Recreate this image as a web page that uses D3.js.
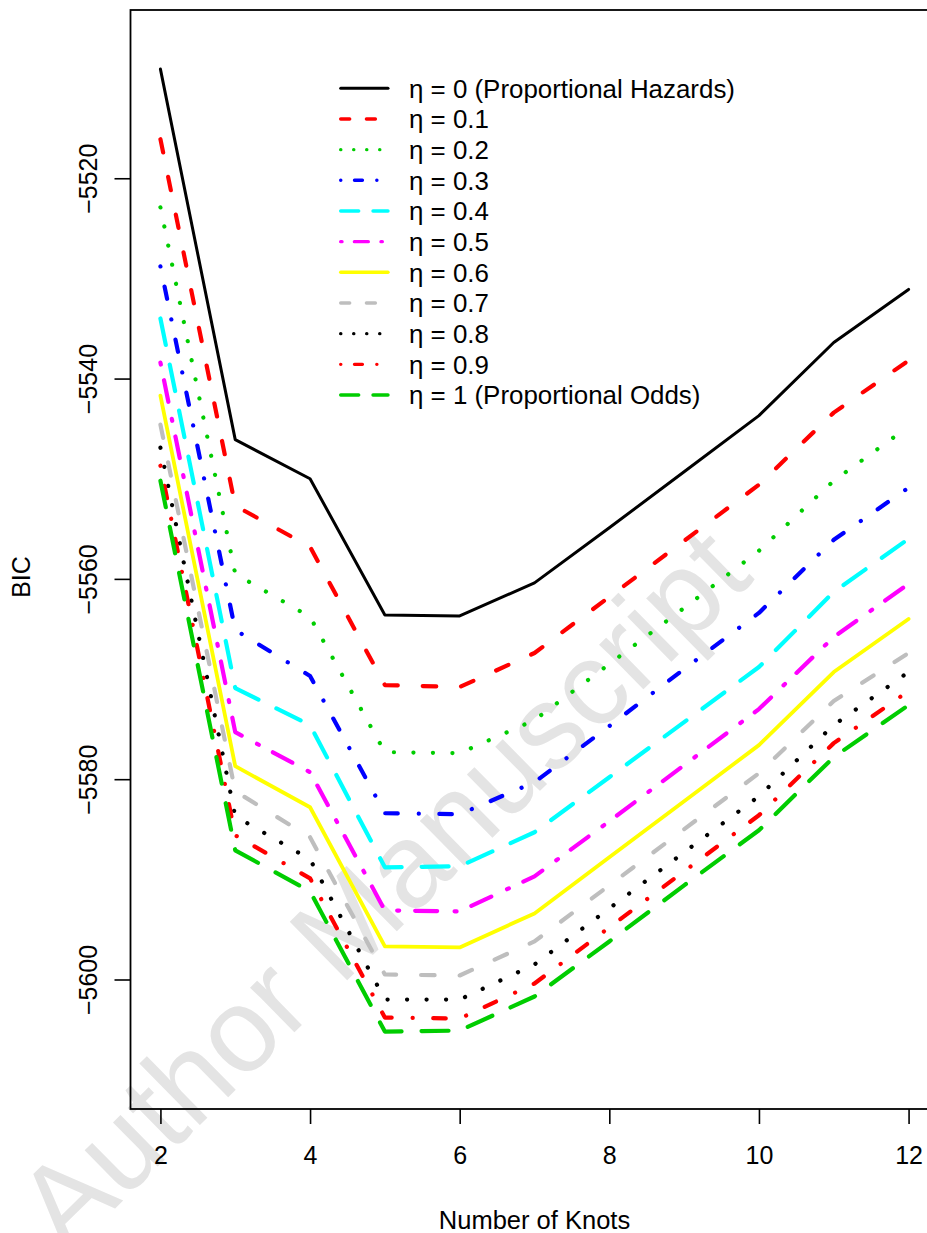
<!DOCTYPE html>
<html>
<head>
<meta charset="utf-8">
<script src="https://cdn.jsdelivr.net/npm/d3@7"></script>
<style>
  body { margin: 0; background: #fff; }
  text { font-family: "Liberation Sans", Arial, Helvetica, sans-serif; }
</style>
</head>
<body>
<div id="chart"></div>
<script>
// number of knots on the x axis
const knots = [2, 3, 4, 5, 6, 7, 8, 9, 10, 11, 12];

// BIC for each eta
const bicEta00 = [-5509.1, -5546.1, -5550.0, -5563.6, -5563.7, -5560.4, -5554.9, -5549.3, -5543.7, -5536.4, -5531.1];
const bicEta01 = [-5516.1, -5552.7, -5556.8, -5570.6, -5570.8, -5567.4, -5561.8, -5556.2, -5550.6, -5543.4, -5538.2];
const bicEta02 = [-5522.9, -5559.5, -5563.8, -5577.3, -5577.4, -5574.1, -5568.5, -5562.9, -5557.2, -5550.2, -5544.8];
const bicEta03 = [-5528.8, -5565.1, -5569.7, -5583.4, -5583.5, -5580.3, -5574.7, -5569.0, -5563.4, -5556.1, -5550.9];
const bicEta04 = [-5534.0, -5570.9, -5574.6, -5588.8, -5588.7, -5585.3, -5579.8, -5574.3, -5568.8, -5561.3, -5556.0];
const bicEta05 = [-5538.4, -5575.3, -5579.3, -5593.1, -5593.2, -5589.7, -5584.2, -5578.6, -5573.0, -5565.8, -5560.5];
const bicEta06 = [-5541.7, -5578.7, -5582.8, -5596.7, -5596.8, -5593.4, -5587.8, -5582.2, -5576.6, -5569.3, -5564.0];
const bicEta07 = [-5544.6, -5581.2, -5585.8, -5599.5, -5599.6, -5596.2, -5590.6, -5585.0, -5579.4, -5572.2, -5567.4];
const bicEta08 = [-5546.9, -5583.7, -5588.0, -5602.0, -5602.0, -5598.5, -5592.9, -5587.3, -5581.7, -5574.6, -5569.3];
const bicEta09 = [-5548.7, -5585.6, -5589.9, -5603.8, -5603.9, -5600.4, -5594.8, -5589.2, -5583.6, -5576.4, -5571.2];
const bicEta10 = [-5550.2, -5587.1, -5591.2, -5605.2, -5605.1, -5601.7, -5596.2, -5590.6, -5585.1, -5577.8, -5572.6];

const etaLabels = ["η = 0 (Proportional Hazards)", "η = 0.1", "η = 0.2", "η = 0.3", "η = 0.4", "η = 0.5",
                   "η = 0.6", "η = 0.7", "η = 0.8", "η = 0.9", "η = 1 (Proportional Odds)"];
const xTicks = [2, 4, 6, 8, 10, 12];
const yTicks = [-5600, -5580, -5560, -5540, -5520];

// R default palette and line types, cycled like lty = 1:6
const colors = ["#000000", "#FF0000", "#00CD00", "#0000FF", "#00FFFF", "#FF00FF",
                "#FFFF00", "#BEBEBE", "#000000", "#FF0000", "#00CD00"];
const ltys = ["solid", "dashed", "dotted", "dotdash", "longdash", "twodash",
              "solid", "dashed", "dotted", "dotdash", "longdash"];

const bics = [bicEta00, bicEta01, bicEta02, bicEta03, bicEta04, bicEta05,
              bicEta06, bicEta07, bicEta08, bicEta09, bicEta10];

const dashPlot = { solid: null, dashed: "13.5,25", dotted: "0.1,19.4",
                   dotdash: "0.1,20.5,12.5,21", longdash: "27,20", twodash: "2,16,22,17.4" };
const dashLegend = { solid: null, dashed: "9,16.7", dotted: "0.1,12.9",
                     dotdash: "0.1,13.7,7.9,14.4", longdash: "18,14.3", twodash: "1.3,12.4,13.9,12.7" };

const width = 927, height = 1233;
const box = { left: 130.5, right: 938.5, top: 10, bottom: 1109 };
const fs = 25;

const svg = d3.select("#chart").append("svg")
    .attr("width", width)
    .attr("height", height)
    .attr("viewBox", [0, 0, width, height]);

let x = d3.scaleLinear()
    .domain([1.6, 12.4])
    .range([box.left, box.right]);

let y = d3.scaleLinear()
    .domain([-5612.93, -5503.2])
    .range([box.bottom, box.top]);

// watermark (behind everything, runs off the bottom edge like the original)
svg.append("text")
    .attr("transform", "translate(382,888) rotate(-44.5)")
    .attr("text-anchor", "middle")
    .attr("dominant-baseline", "central")
    .attr("font-size", 119)
    .attr("fill", "#e4e4e4")
    .text("Author Manuscript");

// box
svg.append("rect")
    .attr("x", box.left).attr("y", box.top)
    .attr("width", box.right - box.left).attr("height", box.bottom - box.top)
    .attr("fill", "none").attr("stroke", "#000").attr("stroke-width", 1.8);

// x axis ticks + labels
let xg = svg.append("g").attr("transform", `translate(0,${box.bottom})`)
    .call(d3.axisBottom(x).tickValues(xTicks).tickSize(15).tickPadding(22).tickFormat(d3.format("d")));
xg.select(".domain").remove();
xg.selectAll("line").attr("stroke-width", 1.6);
xg.selectAll("text").attr("font-size", fs).attr("font-family", null).attr("fill", "#000");

// y axis ticks + rotated labels
let yg = svg.append("g").attr("transform", `translate(${box.left},0)`)
    .call(d3.axisLeft(y).tickValues(yTicks).tickSize(16).tickFormat(d3.format("d")));
yg.select(".domain").remove();
yg.selectAll("line").attr("stroke-width", 1.6);
yg.selectAll("text")
    .attr("font-size", fs).attr("font-family", null).attr("fill", "#000")
    .attr("x", null).attr("dy", null)
    .attr("text-anchor", "middle")
    .attr("transform", "translate(-34,0) rotate(-90)");

// axis titles
svg.append("text")
    .attr("x", (box.left + box.right) / 2).attr("y", 1229)
    .attr("text-anchor", "middle").attr("font-size", 25.5)
    .text("Number of Knots");

svg.append("text")
    .attr("transform", "translate(30,577) rotate(-90)")
    .attr("text-anchor", "middle").attr("font-size", fs)
    .text("BIC");

// lines
const line = d3.line()
    .x((d, i) => x(knots[i]))
    .y(d => y(d));

svg.append("g")
    .selectAll("path")
    .data(bics)
    .join("path")
    .attr("d", d => line(d))
    .attr("fill", "none")
    .attr("stroke", (d, i) => colors[i])
    .attr("stroke-width", (d, i) => i === 0 ? 3 : (i === 6 ? 3.8 : 4.2))
    .attr("stroke-dasharray", (d, i) => dashPlot[ltys[i]])
    .attr("stroke-linecap", "round")
    .attr("stroke-linejoin", "round");

// legend
let legend = svg.append("g")
    .selectAll("g")
    .data(etaLabels)
    .join("g")
    .attr("transform", (d, i) => `translate(0,${88.3 + i * 30.67})`);

legend.append("line")
    .attr("x1", 340.7).attr("x2", 388)
    .attr("stroke", (d, i) => colors[i])
    .attr("stroke-width", (d, i) => i === 0 ? 3 : 3.4)
    .attr("stroke-dasharray", (d, i) => dashLegend[ltys[i]])
    .attr("stroke-linecap", "round");

legend.append("text")
    .attr("x", 409)
    .attr("dy", "0.36em")
    .attr("font-size", 25.9)
    .text(d => d);
</script>
</body>
</html>
